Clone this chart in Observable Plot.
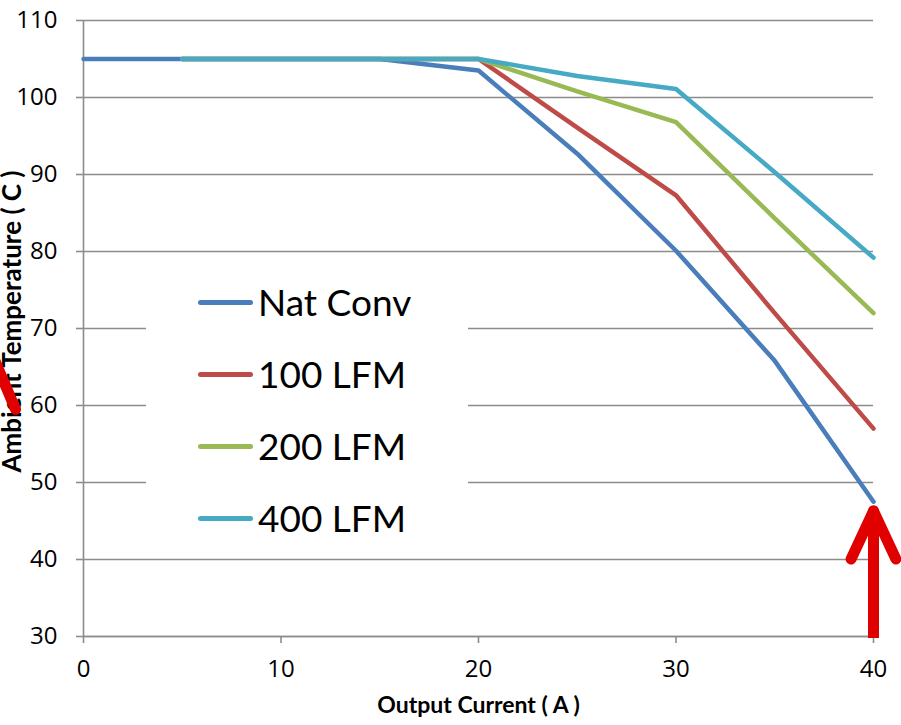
<!DOCTYPE html>
<html>
<head>
<meta charset="utf-8">
<script src="https://cdn.jsdelivr.net/npm/d3@7"></script>
<script src="https://cdn.jsdelivr.net/npm/@observablehq/plot@0.6"></script>
<style>
  html, body { margin: 0; padding: 0; background: #fff; }
  #wrap { position: relative; width: 901px; height: 725px; font-family: Lato, "Open Sans", sans-serif; }
  #legend { position: absolute; left: 146px; top: 268px; width: 322px; height: 276px; background: #fff; }
  .row { position: absolute; left: 52px; height: 40px; display: flex; align-items: center; }
  .sw { width: 55px; height: 5px; border-radius: 3px; margin-right: 5px; }
  .lab { font-size: 37px; color: #000; line-height: 40px; }
</style>
</head>
<body>
<div id="wrap"></div>
<script>
// Data
const currents = [0, 5, 10, 15, 20, 25, 30, 35, 40];
const seriesNames = ["Nat Conv", "100 LFM", "200 LFM", "400 LFM"];
const natConv = [105, 105, 105, 105, 103.5, 92.7, 80.1, 65.8, 47.5];
const lfm100  = [null, 105, 105, 105, 105, 96.1, 87.3, 72.0, 57.0];
const lfm200  = [null, 105, 105, 105, 105, 100.8, 96.8, 84.3, 72.0];
const lfm400  = [null, 105, 105, 105, 105, 102.8, 101.1, 90.3, 79.2];
const colors = ["#4A7EBB", "#BE4B48", "#98B954", "#46AAC5"];
const yTicks = [30, 40, 50, 60, 70, 80, 90, 100, 110];
const xTicks = [0, 10, 20, 30, 40];
// annotation arrow (bottom right), in data units
const arrowX = 40, arrowFrom = 30, arrowTo = 46.3;
// partial arrow fragment at left edge (outside plot)
const fragX = [-4.6, -3.44], fragY = [66.5, 59.5];

const allSeries = [natConv, lfm100, lfm200, lfm400];
const rows = [];
allSeries.forEach((vals, si) => {
  vals.forEach((v, i) => { if (v != null) rows.push({series: seriesNames[si], x: currents[i], y: v}); });
});

const lineShape = {draw(ctx, l) { ctx.moveTo(0, 0); ctx.lineTo(0, -l); }};
const red = "#E00000";

const font = "Lato, 'Open Sans', sans-serif";
const tickFont = "'Open Sans', Lato, sans-serif";
const plot = Plot.plot({
  width: 901,
  height: 725,
  marginLeft: 83,
  marginRight: 28,
  marginTop: 20,
  marginBottom: 89,
  style: {fontFamily: font, fontSize: "21px", color: "#000", background: "#fff", overflow: "visible"},
  x: {domain: [0, 40], ticks: xTicks, label: null},
  y: {domain: [30, 110], ticks: yTicks, label: null},
  color: {domain: seriesNames, range: colors},
  marks: [
    Plot.gridY(yTicks, {stroke: "#8c8c8c", strokeOpacity: 1, strokeWidth: 1.6}),
    Plot.ruleX([0], {stroke: "#8c8c8c", strokeWidth: 1.6}),
    Plot.ruleY([30], {stroke: "#8c8c8c", strokeWidth: 1.6}),
    Plot.axisY(yTicks, {tickSize: 7, tickPadding: 19, stroke: "#8c8c8c", strokeWidth: 1.6, fill: "#000", fontSize: 24, fontFamily: tickFont}),
    Plot.axisX(xTicks, {tickSize: 7, tickPadding: 16, stroke: "#8c8c8c", strokeWidth: 1.6, fill: "#000", fontSize: 24, fontFamily: tickFont}),
    Plot.line(rows, {x: "x", y: "y", z: "series", stroke: "series", strokeWidth: 4.5, strokeLinejoin: "round", strokeLinecap: "round"}),
    Plot.ruleX([arrowX], {y1: arrowFrom, y2: arrowTo, stroke: red, strokeWidth: 11, dy: 2}),
    Plot.vector([{x: arrowX, y: arrowTo, r: 155}, {x: arrowX, y: arrowTo, r: 205}], {x: "x", y: "y", rotate: "r", length: 53, anchor: "start", shape: lineShape, stroke: red, strokeWidth: 11, strokeLinecap: "round"}),
    Plot.text(["Output Current ( A )"], {frameAnchor: "bottom", dy: 76, fontWeight: "bold", fontSize: 23, fill: "#000"}),
    Plot.text(["Ambient Temperature ( C )"], {frameAnchor: "left", textAnchor: "middle", dx: -71, dy: -7, rotate: -90, fontWeight: "bold", fontSize: 26, fill: "#000"}),
    Plot.line([{x: fragX[0], y: fragY[0]}, {x: fragX[1], y: fragY[1]}], {x: "x", y: "y", stroke: red, strokeWidth: 11, strokeLinecap: "round", clip: false})
  ]
});

const wrap = document.getElementById("wrap");
wrap.appendChild(plot);
const legend = document.createElement("div");
legend.id = "legend";
seriesNames.forEach((name, i) => {
  const r = document.createElement("div");
  r.className = "row";
  r.style.top = (14 + i * 72) + "px";
  r.innerHTML = `<div class="sw" style="background:${colors[i]}"></div><div class="lab">${name}</div>`;
  legend.appendChild(r);
});
wrap.appendChild(legend);
</script>
</body>
</html>
